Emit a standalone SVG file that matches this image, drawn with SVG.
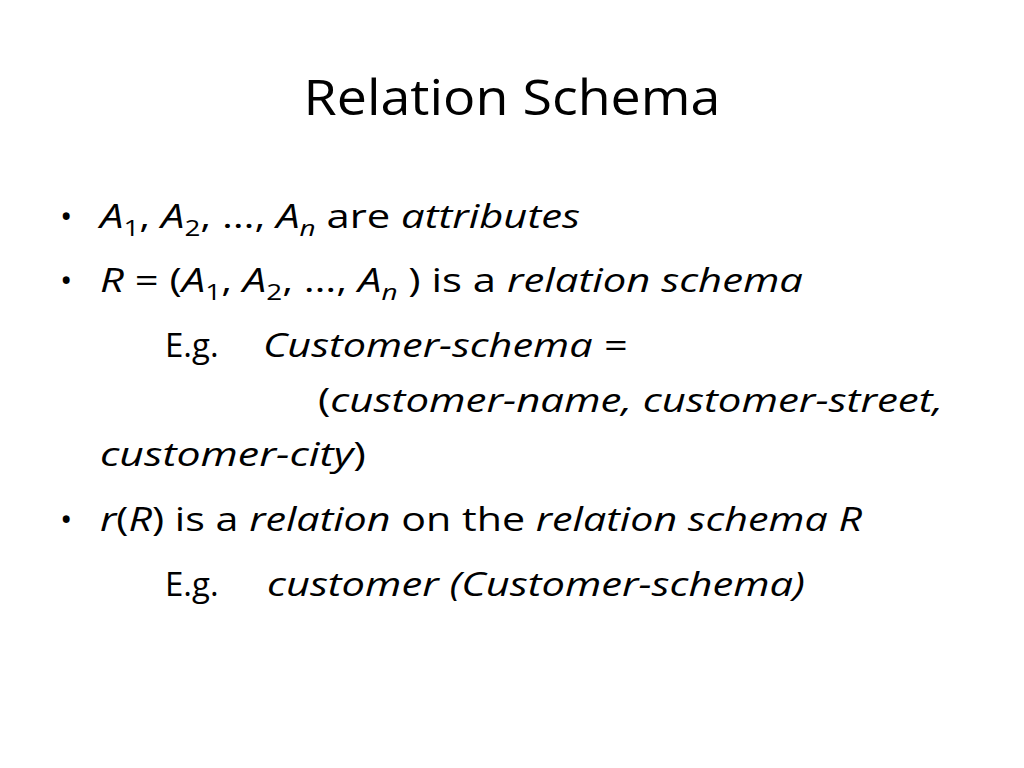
<svg xmlns="http://www.w3.org/2000/svg" width="1024" height="768" viewBox="0 0 1024 768">
<style>
text{font-family:"Open Sans","Liberation Sans",sans-serif;fill:#000}
.t{font-size:50px}
.b{font-size:33px}
.i{font-style:italic}
.s{font-size:22px}
</style>
<rect width="1024" height="768" fill="#fff"/>
<g id="title"><text class="t" x="512" y="115" text-anchor="middle" textLength="417" lengthAdjust="spacingAndGlyphs">Relation Schema</text></g>
<g id="body">
<text class="b" x="60" y="228">•</text>
<text class="b" x="100" y="228" textLength="480" lengthAdjust="spacingAndGlyphs"><tspan class="i">A</tspan><tspan class="s" dy="8">1</tspan><tspan dy="-8">, </tspan><tspan class="i">A</tspan><tspan class="s" dy="8">2</tspan><tspan dy="-8">, …, </tspan><tspan class="i">A</tspan><tspan class="s i" dy="8">n</tspan><tspan dy="-8"> are </tspan><tspan class="i">attributes</tspan></text>
<text class="b" x="60" y="292">•</text>
<text class="b" x="100" y="292" textLength="703" lengthAdjust="spacingAndGlyphs"><tspan class="i">R</tspan> = (<tspan class="i">A</tspan><tspan class="s" dy="8">1</tspan><tspan dy="-8">, </tspan><tspan class="i">A</tspan><tspan class="s" dy="8">2</tspan><tspan dy="-8">, …, </tspan><tspan class="i">A</tspan><tspan class="s i" dy="8">n</tspan><tspan dy="-8"> ) is a </tspan><tspan class="i">relation schema</tspan></text>
<text class="b" x="165" y="357">E.g.</text>
<text class="b i" x="263" y="357" textLength="364" lengthAdjust="spacingAndGlyphs">Customer-schema =</text>
<text class="b" x="318" y="412" textLength="625" lengthAdjust="spacingAndGlyphs">(<tspan class="i">customer-name, customer-street,</tspan></text>
<text class="b" x="100" y="466" textLength="266" lengthAdjust="spacingAndGlyphs"><tspan class="i">customer-city</tspan>)</text>
<text class="b" x="60" y="531">•</text>
<text class="b" x="100" y="531" textLength="762" lengthAdjust="spacingAndGlyphs"><tspan class="i">r</tspan>(<tspan class="i">R</tspan>) is a <tspan class="i">relation</tspan> on the <tspan class="i">relation schema R</tspan></text>
<text class="b" x="165" y="596">E.g.</text>
<text class="b i" x="267" y="596" textLength="538" lengthAdjust="spacingAndGlyphs">customer (Customer-schema)</text>
</g>
</svg>
